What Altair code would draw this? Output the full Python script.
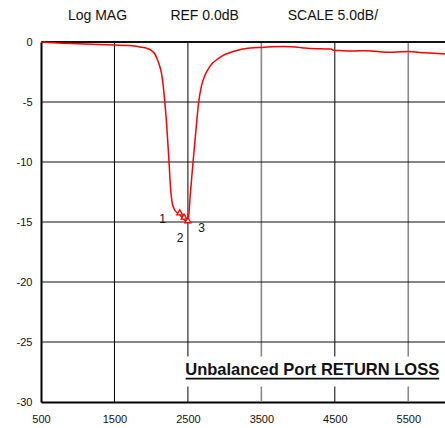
import altair as alt
import pandas as pd

# ---- trace data (frequency, dB) ----
freqs = [500, 800, 1100, 1500, 1700, 1850, 1950, 2000, 2050, 2080, 2110, 2140,
         2165, 2185, 2210, 2243, 2262, 2289, 2321, 2389, 2447, 2500, 2535, 2570,
         2610, 2647, 2683, 2730, 2773, 2830, 2887, 2970, 3068, 3180, 3295, 3400,
         3520, 3650, 3800, 3900, 4050, 4155, 4300, 4450, 4480, 4600, 4750, 4900,
         5050, 5250, 5400, 5500, 5650, 5800, 6000]
dbs = [0.0, -0.1, -0.17, -0.25, -0.3, -0.42, -0.55, -0.7, -1.0, -1.4, -1.9, -2.6,
       -3.7, -5.0, -6.8, -10.0, -12.0, -13.5, -14.0, -14.4, -14.8, -15.05, -12.5, -10.0,
       -7.3, -5.0, -3.7, -2.8, -2.3, -1.8, -1.5, -1.15, -0.9, -0.68, -0.55, -0.48,
       -0.45, -0.4, -0.38, -0.4, -0.48, -0.55, -0.57, -0.58, -0.68, -0.72, -0.75, -0.72,
       -0.78, -0.85, -0.82, -0.8, -0.87, -0.92, -1.0]

# markers
marker_f = [2389, 2447, 2500]
marker_db = [-14.2, -14.55, -14.85]
label_text = ["1", "2", "3"]
label_f = [2157, 2392, 2688]
label_db = [-14.75, -16.35, -15.5]

# grid
vgrid_f = [1500, 2500, 3500, 4500, 5500]
vgrid_color = ["#000000", "#000000", "#888888", "#000000", "#888888"]
vgrid_w = [1, 1, 1.6, 1, 1.6]
hgrid_db = [0, -5, -10, -15, -20, -25]
hgrid_w = [2, 1, 1, 1, 1, 1]

x_ticks = [500, 1500, 2500, 3500, 4500, 5500]
y_ticks = [0, -5, -10, -15, -20, -25, -30]

# header texts
header_text = ["Log MAG", "REF  0.0dB", "SCALE  5.0dB/"]
header_f = [1269, 2728, 4474]
header_db = [2.2, 2.2, 2.2]

# title annotation
title_text = ["Unbalanced Port RETURN LOSS"]
title_f = [5921]
title_db = [-27.75]
underline_f = [2470]
underline_f2 = [5921]
underline_db = [-28.05]
box_f = [2400]
box_f2 = [6000]
box_db = [-26.2]
box_db2 = [-28.7]

FONT = "Liberation Sans"

x_scale = alt.Scale(domain=[500, 6000], nice=False, zero=False)
y_scale = alt.Scale(domain=[-30, 0], nice=False, zero=False)
x_axis = alt.Axis(values=x_ticks, title=None, grid=False, ticks=False, tickSize=0,
                  labelPadding=11, labelFontSize=11, labelFont=FONT, labelColor="#111",
                  domainColor="black", domainWidth=2, labelFlush=False,
                  labelExpr="'' + datum.value")
y_axis = alt.Axis(values=y_ticks, title=None, grid=False, ticks=False, tickSize=0,
                  labelPadding=9, labelFontSize=11, labelFont=FONT, labelColor="#111",
                  domainColor="black", domainWidth=2, labelFlush=False,
                  labelExpr="'' + datum.value")


def X(field="f"):
    return alt.X(f"{field}:Q", scale=x_scale, axis=x_axis)


def Y(field="db"):
    return alt.Y(f"{field}:Q", scale=y_scale, axis=y_axis)


trace_df = pd.DataFrame({"f": freqs, "db": dbs})
vgrid_df = pd.DataFrame({"f": vgrid_f, "c": vgrid_color, "w": vgrid_w})
hgrid_df = pd.DataFrame({"db": hgrid_db, "w": hgrid_w})
marker_df = pd.DataFrame({"f": marker_f, "db": marker_db})
label_df = pd.DataFrame({"f": label_f, "db": label_db, "t": label_text})
header_df = pd.DataFrame({"f": header_f, "db": header_db, "t": header_text})
title_df = pd.DataFrame({"f": title_f, "db": title_db, "t": title_text})
under_df = pd.DataFrame({"f": underline_f, "f2": underline_f2, "db": underline_db})
box_df = pd.DataFrame({"f": box_f, "f2": box_f2, "db": box_db, "db2": box_db2})

vgrid = alt.Chart(vgrid_df).mark_rule().encode(
    x=X(),
    color=alt.Color("c:N", scale=None),
    strokeWidth=alt.StrokeWidth("w:Q", scale=None),
)
hgrid = alt.Chart(hgrid_df).mark_rule(color="#111111").encode(
    y=Y(),
    strokeWidth=alt.StrokeWidth("w:Q", scale=None),
)
box = alt.Chart(box_df).mark_rect(color="white", opacity=1).encode(
    x=X(), x2="f2:Q", y=Y(), y2="db2:Q"
)
trace = alt.Chart(trace_df).mark_line(color="#ff0000", strokeWidth=1.5,
                                       interpolate="monotone").encode(x=X(), y=Y())
markers = alt.Chart(marker_df).mark_point(shape="triangle-up", size=34, fill="white",
                                          fillOpacity=1, opacity=1, stroke="#ff0000",
                                          strokeWidth=1.3).encode(x=X(), y=Y())
labels = alt.Chart(label_df).mark_text(fontSize=12, font=FONT, color="#111",
                                       align="center", baseline="middle").encode(
    x=X(), y=Y(), text="t:N")
header = alt.Chart(header_df).mark_text(fontSize=14, font=FONT, color="#111",
                                        align="center", baseline="middle").encode(
    x=X(), y=Y(), text="t:N")
title = alt.Chart(title_df).mark_text(fontSize=16.5, font=FONT, fontWeight="bold",
                                      color="#111", align="right",
                                      baseline="alphabetic").encode(
    x=X(), y=Y(), text="t:N")
underline = alt.Chart(under_df).mark_rule(color="#111", strokeWidth=1.6).encode(
    x=X(), x2="f2:Q", y=Y())

chart = alt.layer(vgrid, hgrid, box, trace, markers, labels, header, title, underline).properties(
    width=404, height=360,
    autosize=alt.AutoSizeParams(type="none"),
    padding={"left": 41, "top": 42, "right": 0, "bottom": 26},
    background="white",
).configure_view(stroke=None)

chart.save("out.html", embed_options={"renderer": "svg", "actions": False})
